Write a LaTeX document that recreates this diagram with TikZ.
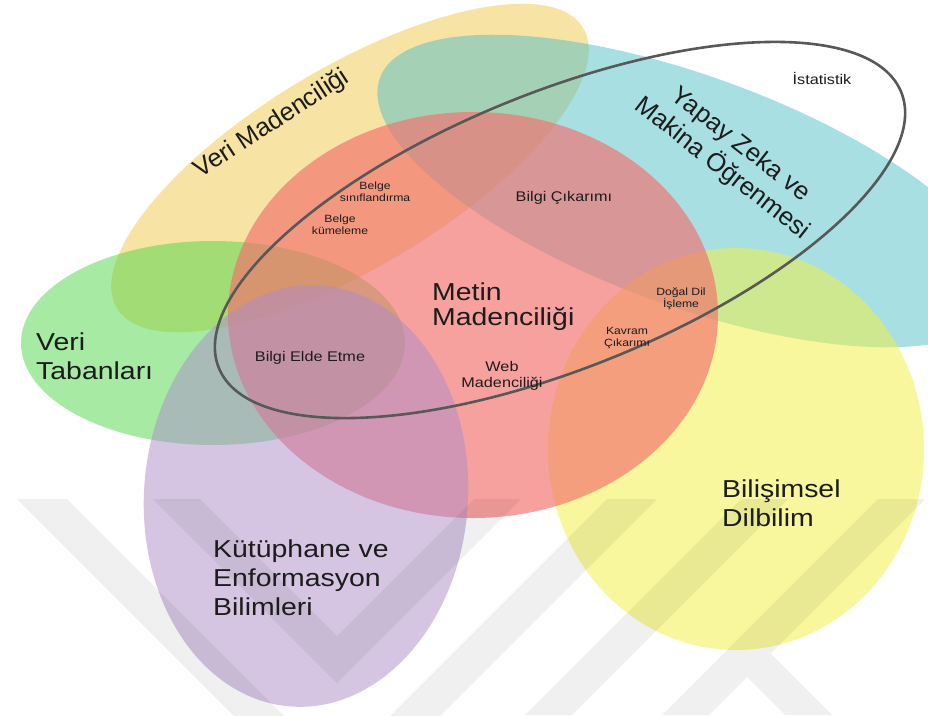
\documentclass[tikz,border=0pt]{standalone}
\usepackage{fontspec}
\setmainfont{Liberation Sans}
\newfontfamily\wide[FakeStretch=1.16]{Liberation Sans}
\definecolor{ink}{RGB}{28,28,28}
\definecolor{dmYellow}{RGB}{241,201,73}
\definecolor{mlCyan}{RGB}{83,193,201}
\definecolor{dbGreen}{RGB}{79,215,73}
\definecolor{clYellow}{RGB}{243,241,61}
\definecolor{tmRed}{RGB}{243,111,109}
\definecolor{lisPurple}{RGB}{173,141,201}
\definecolor{statLine}{RGB}{88,88,88}
\begin{document}
\begin{tikzpicture}[x=1pt,y=-1pt,
  area/.style={fill=#1,fill opacity=0.5,draw=none},
  big/.style={font={\wide\fontsize{24.5}{29}\selectfont},text=ink,inner sep=0pt,align=left,anchor=north west},
  tilted/.style={font={\fontsize{25.5}{30}\selectfont},text=ink,inner sep=0pt,align=center},
  mid/.style={font={\wide\fontsize{14}{15.5}\selectfont},text=ink,inner sep=0pt,align=center},
  tiny/.style={font={\wide\fontsize{10.5}{12}\selectfont},text=ink,inner sep=0pt,align=center},
  mark band/.style={fill=black,fill opacity=0.06}]
\useasboundingbox (0,0) rectangle (928,715);
\fill[white] (0,0) rectangle (928,715);

% overlapping fields
\fill[area=dmYellow, rotate around={31:(350,168)}] (350,168) ellipse [x radius=272, y radius=100];
\fill[area=mlCyan, rotate around={-20:(690,191)}] (690,191) ellipse [x radius=330, y radius=115];
\fill[area=dbGreen] (213,343) ellipse [x radius=192, y radius=102];
\fill[area=clYellow] (736,449) ellipse [x radius=188, y radius=201];
\fill[area=tmRed, fill opacity=0.65] (473,315) ellipse [x radius=245, y radius=203];
\fill[area=lisPurple, rotate around={-4:(306,496)}] (306,496) ellipse [x radius=162, y radius=211];

% faint striped background mark
\begin{scope}
\clip (0,0) rectangle (928,715);
\fill[mark band]
  (17,499) -- (337,819) -- (657,499) -- (607,499) -- (337,769) -- (67,499) -- cycle
  (153,499) -- (337,683) -- (521,499) -- (474,499) -- (337,636) -- (200,499) -- cycle
  (741,499) -- (788,499) -- (572,715) -- (525,715) -- cycle
  (878,499) -- (925,499) -- (709,715) -- (662,715) -- cycle
  (770.5,653.5) -- (832,715) -- (785,715) -- (747,677) -- cycle;
\end{scope}

% statistics outline
\draw[statLine, line width=2.6pt, rotate around={22:(560,230)}] (560,230) ellipse [x radius=368, y radius=138];

% field names
\node[tilted, rotate=33] (dm) at (272,124) {Veri Madenciliği};
\node[tilted, rotate=-38] (ai) at (731,157) {Yapay Zeka ve\\Makina Öğrenmesi};
\node[big] (vt) at (36,333) {Veri\\Tabanları};
\node[big] (kut) at (213,540) {Kütüphane ve\\Enformasyon\\Bilimleri};
\node[big] (bd) at (722,480) {Bilişimsel\\Dilbilim};
\node[big, font={\wide\fontsize{24.5}{25}\selectfont}] (mm) at (432,283) {Metin\\Madenciliği};
\node[mid] (st) at (822,78) {İstatistik};

% overlap topics
\node[tiny] (bs) at (375,192) {Belge\\sınıflandırma};
\node[tiny] (bk) at (340,225) {Belge\\kümeleme};
\node[mid] (bc) at (564,198) {Bilgi Çıkarımı};
\node[tiny] (dd) at (681,299) {Doğal Dil\\İşleme};
\node[tiny] (kc) at (627,338) {Kavram\\Çıkarımı};
\node[mid] (wm) at (502,376) {Web\\Madenciliği};
\node[mid] (be) at (310,358) {Bilgi Elde Etme};
\end{tikzpicture}
\end{document}
